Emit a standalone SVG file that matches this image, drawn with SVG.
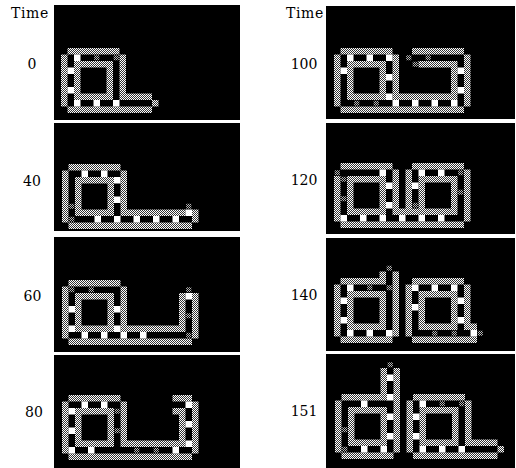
<svg xmlns="http://www.w3.org/2000/svg" width="516" height="468" viewBox="0 0 516 468">
<defs>
<pattern id="chk" patternUnits="userSpaceOnUse" width="2" height="2" patternTransform="scale(0.153846)">
<rect width="2" height="2" fill="#fff"/>
<rect width="1" height="1" fill="#333"/>
<rect x="1" y="1" width="1" height="1" fill="#333"/>
</pattern>
<pattern id="dim" patternUnits="userSpaceOnUse" width="2" height="2" patternTransform="scale(0.153846)">
<rect width="2" height="2" fill="#000"/>
<rect width="1" height="1" fill="#b8b8b8"/>
<rect x="1" y="1" width="1" height="1" fill="#b8b8b8"/>
</pattern>
</defs>
<style>
.bg{fill:#fff}
.pan{fill:#000}
.g{fill:url(#chk)}
.w{fill:#fff}
.x{fill:url(#dim)}
.lb{font-family:"DejaVu Serif","Liberation Serif",serif;font-size:14px;fill:#000}
</style>
<rect class="bg" width="516" height="468"/>
<g id="labels">
<text class="lb" x="11" y="17.5" letter-spacing="0.6">Time</text>
<text class="lb" x="286" y="17.5" letter-spacing="0.6">Time</text>
<text class="lb" x="32" y="68.5" text-anchor="middle">0</text>
<text class="lb" x="32" y="185.5" text-anchor="middle">40</text>
<text class="lb" x="32.5" y="300.5" text-anchor="middle">60</text>
<text class="lb" x="34" y="416.5" text-anchor="middle">80</text>
<text class="lb" x="304" y="68.5" text-anchor="middle">100</text>
<text class="lb" x="304" y="184.5" text-anchor="middle">120</text>
<text class="lb" x="304" y="299.5" text-anchor="middle">140</text>
<text class="lb" x="304" y="416" text-anchor="middle">151</text>
</g>
<g id="panels">
<rect class="pan" x="54" y="5" width="186" height="115"/>
<rect class="pan" x="54" y="123" width="186" height="108"/>
<rect class="pan" x="54" y="237" width="186" height="115"/>
<rect class="pan" x="54" y="355" width="186" height="113"/>
<rect class="pan" x="326" y="6" width="189" height="113"/>
<rect class="pan" x="326" y="123" width="189" height="111"/>
<rect class="pan" x="326" y="238" width="189" height="113"/>
<rect class="pan" x="326" y="354" width="189" height="114"/>
</g>
<g id="t0" transform="translate(61,48) scale(6.5)">
<path class="g" d="M1 0h8v1h-8z M0 1h1v8h-1z M9 1h1v7h-1z M2 2h6v1h-6z M2 7h6v1h-6z M2 3h1v4h-1z M7 3h1v4h-1z M9 7h5v1h-5z M14 8h1v1h-1z M1 9h13v1h-13z"/>
<path class="w" d="M2 1h1v1h-1z M1 3h1v1h-1z M1 6h1v1h-1z M2 8h1v1h-1z M5 8h1v1h-1z M8 8h1v1h-1z"/>
<path class="x" d="M5.1 1.1h.8v.8h-.8z M8.1 1.1h.8v.8h-.8z"/>
</g>
<g id="t40" transform="translate(62,164) scale(6.5)">
<path class="g" d="M1 0h8v1h-8z M0 1h1v8h-1z M9 1h1v6h-1z M2 2h6v1h-6z M2 7h6v1h-6z M2 3h1v4h-1z M7 3h1v4h-1z M9 7h10v1h-10z M20 7h1v2h-1z M1 9h19v1h-19z"/>
<path class="w" d="M3 1h1v1h-1z M6 1h1v1h-1z M8 2h1v1h-1z M8 5h1v1h-1z M5 8h1v1h-1z M8 8h1v1h-1z M11 8h1v1h-1z M14 8h1v1h-1z M17 8h1v1h-1z M19 7h1v1h-1z"/>
<path class="x" d="M19.1 6.1h.8v.8h-.8z M1.1 6.1h.8v.8h-.8z M1.1 8.1h.8v.8h-.8z"/>
</g>
<g id="t60" transform="translate(62,280) scale(6.5)">
<path class="g" d="M1 0h8v1h-8z M0 1h1v8h-1z M9 1h1v6h-1z M2 2h6v1h-6z M2 7h6v1h-6z M2 3h1v4h-1z M7 3h1v4h-1z M9 7h10v1h-10z M18 2h1v5h-1z M20 2h1v7h-1z M1 9h19v1h-19z"/>
<path class="w" d="M1 4h1v1h-1z M1 7h1v1h-1z M8 4h1v1h-1z M8 7h1v1h-1z M3 8h1v1h-1z M6 8h1v1h-1z M9 8h1v1h-1z M12 8h1v1h-1z M19 2h1v1h-1z"/>
<path class="x" d="M1.1 1.1h.8v.8h-.8z M4.1 1.1h.8v.8h-.8z M19.1 1.1h.8v.8h-.8z M19.1 5.1h.8v.8h-.8z M19.1 8.1h.8v.8h-.8z"/>
</g>
<g id="t80" transform="translate(62,395) scale(6.5)">
<path class="g" d="M1 0h8v1h-8z M0 1h1v8h-1z M9 1h1v6h-1z M2 2h6v1h-6z M2 7h6v1h-6z M2 3h1v4h-1z M7 3h1v4h-1z M9 7h10v1h-10z M18 3h1v4h-1z M17 2h2v1h-2z M17 0h3v1h-3z M20 1h1v8h-1z M1 9h19v1h-19z"/>
<path class="w" d="M3 1h1v1h-1z M6 1h1v1h-1z M1 2h1v1h-1z M1 5h1v1h-1z M1 8h1v1h-1z M4 8h1v1h-1z M17 8h1v1h-1z M19 1h1v1h-1z M19 4h1v1h-1z M19 7h1v1h-1z"/>
<path class="x" d="M8.1 2.1h.8v.8h-.8z M8.1 5.1h.8v.8h-.8z M11.1 8.1h.8v.8h-.8z M14.1 8.1h.8v.8h-.8z"/>
</g>
<g id="t100" transform="translate(334,48) scale(6.5)">
<path class="g" d="M1 0h8v1h-8z M0 1h1v8h-1z M9 1h1v6h-1z M2 2h6v1h-6z M2 7h6v1h-6z M2 3h1v4h-1z M7 3h1v4h-1z M9 7h10v1h-10z M18 3h1v4h-1z M13 2h6v1h-6z M12 0h8v1h-8z M20 1h1v8h-1z M1 9h19v1h-19z"/>
<path class="w" d="M2 1h1v1h-1z M5 1h1v1h-1z M8 1h1v1h-1z M1 3h1v1h-1z M8 4h1v1h-1z M8 7h1v1h-1z M9 8h1v1h-1z M12 8h1v1h-1z M15 8h1v1h-1z M18 8h1v1h-1z M19 3h1v1h-1z M19 6h1v1h-1z"/>
<path class="x" d="M3.1 8.1h.8v.8h-.8z M6.1 8.1h.8v.8h-.8z M11.1 1.1h.8v.8h-.8z M14.1 1.1h.8v.8h-.8z M12.1 2.1h.8v.8h-.8z"/>
</g>
<g id="t120" transform="translate(334,163) scale(6.5)">
<path class="g" d="M1 0h8v1h-8z M0 2h1v7h-1z M9 1h1v6h-1z M2 2h6v1h-6z M2 7h6v1h-6z M2 3h1v4h-1z M7 3h1v4h-1z M9 7h10v1h-10z M11 1h1v6h-1z M12 0h8v1h-8z M13 2h6v1h-6z M13 3h1v4h-1z M18 3h1v4h-1z M20 1h1v8h-1z M1 9h19v1h-19z"/>
<path class="w" d="M7 1h1v1h-1z M8 3h1v1h-1z M8 6h1v1h-1z M1 8h1v1h-1z M4 8h1v1h-1z M7 8h1v1h-1z M10 8h1v1h-1z M13 8h1v1h-1z M16 8h1v1h-1z M13 1h1v1h-1z M16 1h1v1h-1z M12 3h1v1h-1z"/>
<path class="x" d="M0.1 1.1h.8v.8h-.8z M1.1 2.1h.8v.8h-.8z M1.1 5.1h.8v.8h-.8z M12.1 6.1h.8v.8h-.8z M19.1 1.1h.8v.8h-.8z M19.1 4.1h.8v.8h-.8z"/>
</g>
<g id="t140" transform="translate(334,278) scale(6.5)">
<path class="g" d="M1 0h7v1h-7z M7 -1h1v1h-1z M9 -1h1v10h-1z M0 1h1v8h-1z M2 2h6v1h-6z M2 7h6v1h-6z M2 3h1v4h-1z M7 3h1v4h-1z M1 9h8v1h-8z M11 1h1v8h-1z M12 0h8v1h-8z M13 2h6v1h-6z M13 7h6v1h-6z M13 3h1v4h-1z M18 3h1v4h-1z M20 1h1v6h-1z M20 7h2v1h-2z M12 9h10v1h-10z"/>
<path class="w" d="M2 1h1v1h-1z M1 3h1v1h-1z M1 6h1v1h-1z M2 8h1v1h-1z M5 8h1v1h-1z M8 8h1v1h-1z M12 1h1v1h-1z M15 1h1v1h-1z M18 1h1v1h-1z M12 4h1v1h-1z M19 3h1v1h-1z M19 6h1v1h-1z M21 8h1v1h-1z"/>
<path class="x" d="M5.1 1.1h.8v.8h-.8z M8.1 1.1h.8v.8h-.8z M8.1 -1.9h.8v.8h-.8z M15.1 8.1h.8v.8h-.8z M18.1 8.1h.8v.8h-.8z M22.1 8.1h.8v.8h-.8z"/>
</g>
<g id="t151" transform="translate(335,394) scale(6.5)">
<path class="g" d="M1 0h6v1h-6z M7 -4h1v5h-1z M9 -4h1v13h-1z M0 1h1v8h-1z M2 2h6v1h-6z M2 7h6v1h-6z M2 3h1v4h-1z M7 3h1v4h-1z M1 9h8v1h-8z M11 1h1v8h-1z M12 0h8v1h-8z M13 2h6v1h-6z M13 7h6v1h-6z M13 3h1v4h-1z M18 3h1v4h-1z M20 1h1v6h-1z M20 7h5v1h-5z M25 8h1v1h-1z M12 9h13v1h-13z"/>
<path class="w" d="M4 1h1v1h-1z M8 -3h1v1h-1z M8 0h1v1h-1z M8 3h1v1h-1z M8 6h1v1h-1z M4 8h1v1h-1z M7 8h1v1h-1z M13 1h1v1h-1z M12 3h1v1h-1z M12 6h1v1h-1z M13 8h1v1h-1z M16 8h1v1h-1z M19 8h1v1h-1z"/>
<path class="x" d="M8.1 -4.9h.8v.8h-.8z M1.1 5.1h.8v.8h-.8z M1.1 8.1h.8v.8h-.8z M16.1 1.1h.8v.8h-.8z M19.1 1.1h.8v.8h-.8z"/>
</g>
</svg>
